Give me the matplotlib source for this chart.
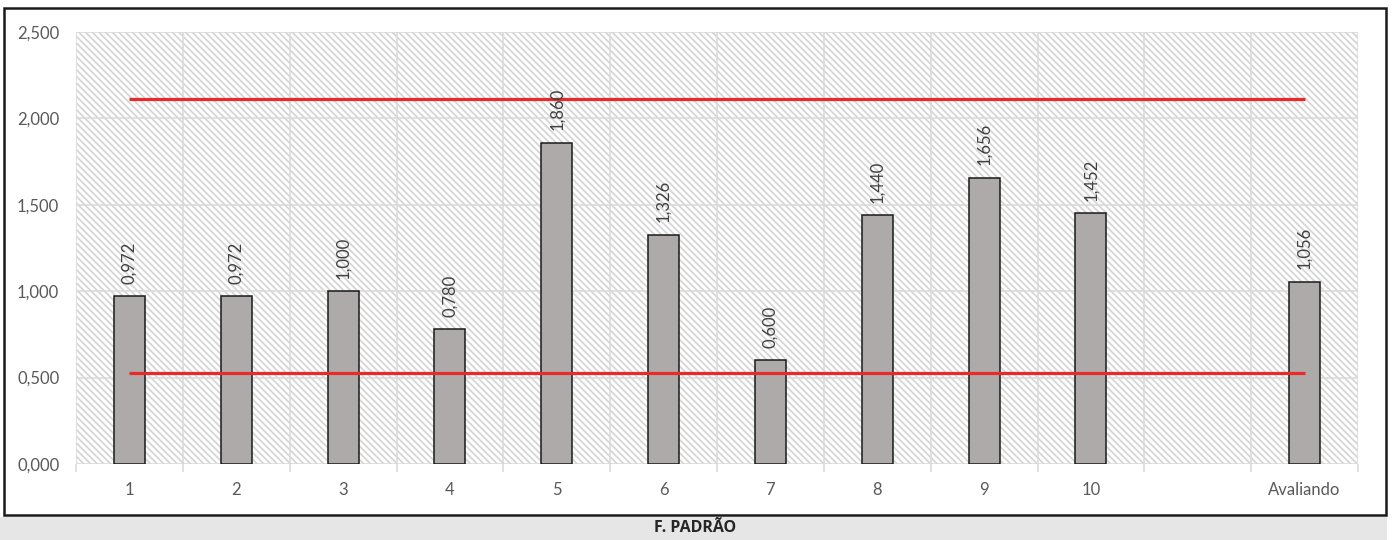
import matplotlib.pyplot as plt
from matplotlib.patches import Rectangle
import numpy as np

plt.rcParams['font.family'] = ['Lato', 'DejaVu Sans']
plt.rcParams['hatch.linewidth'] = 1.3

# Data
categories = ['1', '2', '3', '4', '5', '6', '7', '8', '9', '10', '', 'Avaliando']
values = [0.972, 0.972, 1.000, 0.780, 1.860, 1.326, 0.600, 1.440, 1.656, 1.452, None, 1.056]
upper_limit = 2.112
lower_limit = 0.528
y_ticks = [0.0, 0.5, 1.0, 1.5, 2.0, 2.5]


def fmt(v):
    return f'{v:.3f}'.replace('.', ',')


fig = plt.figure(figsize=(13.92, 5.4), dpi=100)
ax = fig.add_axes([76 / 1392, 76 / 540, (1358 - 76) / 1392, (464 - 32) / 540])

x = np.arange(len(categories))
ax.set_xlim(-0.5, len(categories) - 0.5)
ax.set_ylim(0, 2.5)

# hatched plot background
bg = Rectangle((0, 0), 1, 1, transform=ax.transAxes, facecolor='white',
               edgecolor='#d6d6d6', hatch='\\\\\\\\\\', linewidth=0, zorder=0)
ax.add_patch(bg)

# grid
for yv in y_ticks:
    ax.axhline(yv, color='#d9d9d9', linewidth=1.1, zorder=1)
for xb in np.arange(-0.5, len(categories), 1.0):
    ax.axvline(xb, color='#d9d9d9', linewidth=1.1, zorder=1)

# bars
bar_x = [i for i, v in enumerate(values) if v is not None]
bar_v = [v for v in values if v is not None]
ax.bar(bar_x, bar_v, width=0.29, color='#aeaaaa', edgecolor='#1a1a1a',
       linewidth=1.1, zorder=3)

for xi, v in zip(bar_x, bar_v):
    ax.annotate(fmt(v), (xi, v), xytext=(0, 9), textcoords='offset points',
                rotation=90, ha='center', va='bottom', fontsize=12,
                color='#404040', zorder=5)

# limit lines
ax.plot([0, len(categories) - 1], [upper_limit, upper_limit], color='#e82a2a',
        linewidth=2.3, zorder=4, solid_capstyle='butt')
ax.plot([0, len(categories) - 1], [lower_limit, lower_limit], color='#e82a2a',
        linewidth=2.3, zorder=4, solid_capstyle='butt')

# axes styling
for s in ax.spines.values():
    s.set_visible(False)
ax.set_yticks(y_ticks)
ax.set_yticklabels([fmt(v) for v in y_ticks], fontsize=12, color='#595959')
ax.tick_params(axis='y', length=0, pad=12)
ax.set_xticks(np.arange(-0.5, len(categories), 1.0))
ax.set_xticklabels([])
ax.tick_params(axis='x', which='major', length=6, color='#d9d9d9', width=1.1)
ax.set_xticks(x, minor=True)
ax.set_xticklabels(categories, minor=True, fontsize=12, color='#595959')
ax.tick_params(axis='x', which='minor', length=0, pad=13)

# outer frame and caption band
fig.patches.append(Rectangle((4 / 1392, 25 / 540), 1382 / 1392, 507 / 540,
                             transform=fig.transFigure, fill=False,
                             edgecolor='#1a1a1a', linewidth=1.8, zorder=10))
fig.patches.append(Rectangle((0, 0), 1387 / 1392, 23 / 540,
                             transform=fig.transFigure, facecolor='#e7e6e6',
                             edgecolor='none', zorder=1))
fig.text(695 / 1392, 12 / 540, 'F. PADRÃO', ha='center', va='center',
         fontsize=11.5, fontweight='bold', color='#262626',
         family=['Open Sans', 'DejaVu Sans'])

plt.savefig('out.png', dpi=100)
